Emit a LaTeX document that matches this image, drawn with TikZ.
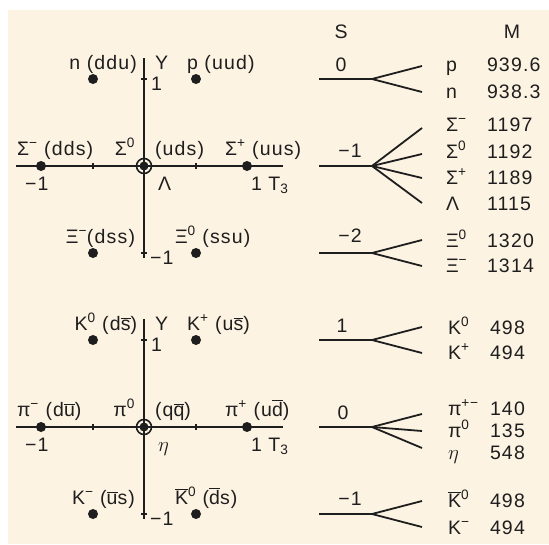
\documentclass[tikz,border=0pt]{standalone}
\usepackage{fontspec}
\setmainfont[LetterSpace=6]{Liberation Sans}
\definecolor{cream}{RGB}{253,243,227}
\definecolor{ink}{RGB}{30,30,30}
\newcommand{\ovl}[1]{$\overline{\hbox{#1}}$}
\newcommand{\su}[1]{\textsuperscript{#1}}
\begin{document}
\begin{tikzpicture}[x=1pt,y=-1pt,
  every node/.style={inner sep=0pt, outer sep=0pt, font=\fontsize{19.5}{22}\selectfont, text=ink},
  axisline/.style={line width=1.8pt, draw=ink},
  treeline/.style={line width=1.8pt, draw=ink},
  tickline/.style={line width=1.2pt, draw=ink},
  pdot/.style={circle, fill=ink, minimum size=10pt},
  cdot/.style={circle, fill=ink, minimum size=9pt},
  ring/.style={circle, draw=ink, line width=1.6pt, minimum size=15pt},
  lw/.style={anchor=base west},
  le/.style={anchor=base east},
  lc/.style={anchor=base}]
\useasboundingbox (0,0) rectangle (549,544);
\fill[cream] (8,10) rectangle (549,544);

% ================= top weight diagram =================
\coordinate (tL) at (16,166); \coordinate (tR) at (283,166);
\coordinate (tT) at (144,58); \coordinate (tB) at (144,258);
\draw[axisline] (tL) -- (tR);
\draw[axisline] (tT) -- (tB);
\coordinate (tx1) at (93,166); \coordinate (tx2) at (196,166);
\coordinate (ty1) at (144,79); \coordinate (ty2) at (144,253);
\draw[tickline] ([yshift=-3pt]tx1) -- ([yshift=3pt]tx1);
\draw[tickline] ([yshift=-3pt]tx2) -- ([yshift=3pt]tx2);
\draw[tickline] ([xshift=-3pt]ty1) -- ([xshift=3pt]ty1);
\draw[tickline] ([xshift=-3pt]ty2) -- ([xshift=3pt]ty2);
\node[pdot] (dn) at (93,79) {};
\node[pdot] (dp) at (196,79) {};
\node[pdot] (dsm) at (41,166) {};
\node[pdot] (dsp) at (247,166) {};
\node[pdot] (dxm) at (93,253) {};
\node[pdot] (dx0) at (196,253) {};
\node[cdot] (dc) at (144,166) {};
\node[ring] (dco) at (144,166) {};

\node[le] (ln) at (137,69) {n (ddu)};
\node[lw] (lY) at (155,69) {Y};
\node[lw] (l1) at (151,90) {1};
\node[lw] (lp) at (187,69) {p (uud)};
\node[lw] (lsm) at (17,155) {Σ\su{−} (dds)};
\node[le] (ls0) at (135,155) {Σ\su{0}};
\node[lw] (luds) at (155,155) {(uds)};
\node[lw] (lsp) at (225,155) {Σ\su{+} (uus)};
\node[lw] (lm1) at (25,190) {−1};
\node[lw] (lL) at (158,190) {Λ};
\node[lw] (lT) at (251,190) {1 T\textsubscript{3}};
\node[le] (lxm) at (135,243) {Ξ\su{−}(dss)};
\node[lw] (lx0) at (175,243) {Ξ\su{0} (ssu)};
\node[lw] (lmy) at (150,264) {−1};

% ================= bottom weight diagram =================
\coordinate (bL) at (16,427); \coordinate (bR) at (283,427);
\coordinate (bT) at (144,319); \coordinate (bB) at (144,519);
\draw[axisline] (bL) -- (bR);
\draw[axisline] (bT) -- (bB);
\coordinate (bx1) at (93,427); \coordinate (bx2) at (196,427);
\coordinate (by1) at (144,340); \coordinate (by2) at (144,514);
\draw[tickline] ([yshift=-3pt]bx1) -- ([yshift=3pt]bx1);
\draw[tickline] ([yshift=-3pt]bx2) -- ([yshift=3pt]bx2);
\draw[tickline] ([xshift=-3pt]by1) -- ([xshift=3pt]by1);
\draw[tickline] ([xshift=-3pt]by2) -- ([xshift=3pt]by2);
\node[pdot] (dk0) at (93,340) {};
\node[pdot] (dkp) at (196,340) {};
\node[pdot] (dpm) at (41,427) {};
\node[pdot] (dpp) at (247,427) {};
\node[pdot] (dkm) at (93,514) {};
\node[pdot] (dkb) at (196,514) {};
\node[cdot] (dc2) at (144,427) {};
\node[ring] (dco2) at (144,427) {};

\node[le] (lk0) at (137,330) {K\su{0} (d\ovl{s})};
\node[lw] (lY2) at (155,330) {Y};
\node[lw] (l12) at (151,351) {1};
\node[lw] (lkp) at (187,330) {K\su{+} (u\ovl{s})};
\node[lw] (lpm) at (17,416) {π\su{−} (d\ovl{u})};
\node[le] (lp0) at (135,416) {π\su{0}};
\node[lw] (lqq) at (155,416) {(q\ovl{q})};
\node[lw] (lpp) at (225,416) {π\su{+} (u\ovl{d})};
\node[lw] (lm12) at (25,451) {−1};
\node[lw] (leta) at (158,451) {$\eta$};
\node[lw] (lT2) at (251,451) {1 T\textsubscript{3}};
\node[le] (lkm) at (135,504) {K\su{−} (\ovl{u}s)};
\node[lw] (lkb) at (175,504) {\ovl{K}\su{0} (\ovl{d}s)};
\node[lw] (lmy2) at (150,525) {−1};

% ================= right side: S and M =================
\node[lc] (hS) at (341,38) {S};
\node[lc] (hM) at (512,38) {M};

% nucleons
\coordinate (a0) at (319,79); \coordinate (a1) at (372,79);
\coordinate (ap) at (422,66); \coordinate (an) at (422,92);
\draw[treeline] (a0) -- (a1) -- (ap);
\draw[treeline] (a1) -- (an);
\node[lc] (sa) at (341,71) {0};
\node[lw] (pa1) at (446,71) {p};   \node[lw] (ma1) at (487,71) {939.6};
\node[lw] (pa2) at (446,98) {n};   \node[lw] (ma2) at (487,98) {938.3};

% sigma / lambda
\coordinate (b0) at (319,166); \coordinate (b1) at (372,166);
\coordinate (bs1) at (422,128); \coordinate (bs2) at (422,154);
\coordinate (bs3) at (422,178); \coordinate (bs4) at (422,203);
\draw[treeline] (b0) -- (b1) -- (bs1);
\draw[treeline] (b1) -- (bs2);
\draw[treeline] (b1) -- (bs3);
\draw[treeline] (b1) -- (bs4);
\node[lc] (sb) at (350,157) {−1};
\node[lw] (pb1) at (446,131) {Σ\su{−}}; \node[lw] (mb1) at (487,131) {1197};
\node[lw] (pb2) at (446,158) {Σ\su{0}}; \node[lw] (mb2) at (487,158) {1192};
\node[lw] (pb3) at (446,184) {Σ\su{+}}; \node[lw] (mb3) at (487,184) {1189};
\node[lw] (pb4) at (446,210) {Λ};       \node[lw] (mb4) at (487,210) {1115};

% xi
\coordinate (c0) at (319,253); \coordinate (c1) at (372,253);
\coordinate (cx1) at (422,240); \coordinate (cx2) at (422,266);
\draw[treeline] (c0) -- (c1) -- (cx1);
\draw[treeline] (c1) -- (cx2);
\node[lc] (sc) at (350,242) {−2};
\node[lw] (pc1) at (446,247) {Ξ\su{0}}; \node[lw] (mc1) at (487,247) {1320};
\node[lw] (pc2) at (446,272) {Ξ\su{−}}; \node[lw] (mc2) at (487,272) {1314};

% kaons S=1
\coordinate (d0) at (319,340); \coordinate (d1) at (372,340);
\coordinate (dk1) at (422,327); \coordinate (dk2) at (422,353);
\draw[treeline] (d0) -- (d1) -- (dk1);
\draw[treeline] (d1) -- (dk2);
\node[lc] (sd) at (342,332) {1};
\node[lw] (pd1) at (448,334) {K\su{0}}; \node[lw] (md1) at (490,334) {498};
\node[lw] (pd2) at (448,359) {K\su{+}}; \node[lw] (md2) at (490,359) {494};

% pions / eta
\coordinate (e0) at (319,427); \coordinate (e1) at (372,427);
\coordinate (ep1) at (422,414); \coordinate (ep2) at (422,431);
\coordinate (ep3) at (422,448);
\draw[treeline] (e0) -- (e1) -- (ep1);
\draw[treeline] (e1) -- (ep2);
\draw[treeline] (e1) -- (ep3);
\node[lc] (se) at (343,419) {0};
\node[lw] (pe1) at (448,415) {π\su{+−}}; \node[lw] (me1) at (490,415) {140};
\node[lw] (pe2) at (448,437) {π\su{0}};  \node[lw] (me2) at (490,437) {135};
\node[lw] (pe3) at (448,459) {$\eta$};   \node[lw] (me3) at (490,459) {548};

% kaons S=-1
\coordinate (f0) at (319,514); \coordinate (f1) at (372,514);
\coordinate (fk1) at (422,501); \coordinate (fk2) at (422,527);
\draw[treeline] (f0) -- (f1) -- (fk1);
\draw[treeline] (f1) -- (fk2);
\node[lc] (sf) at (350,505) {−1};
\node[lw] (pf1) at (448,507) {\ovl{K}\su{0}}; \node[lw] (mf1) at (490,507) {498};
\node[lw] (pf2) at (448,534) {K\su{−}};       \node[lw] (mf2) at (490,534) {494};
\end{tikzpicture}
\end{document}
